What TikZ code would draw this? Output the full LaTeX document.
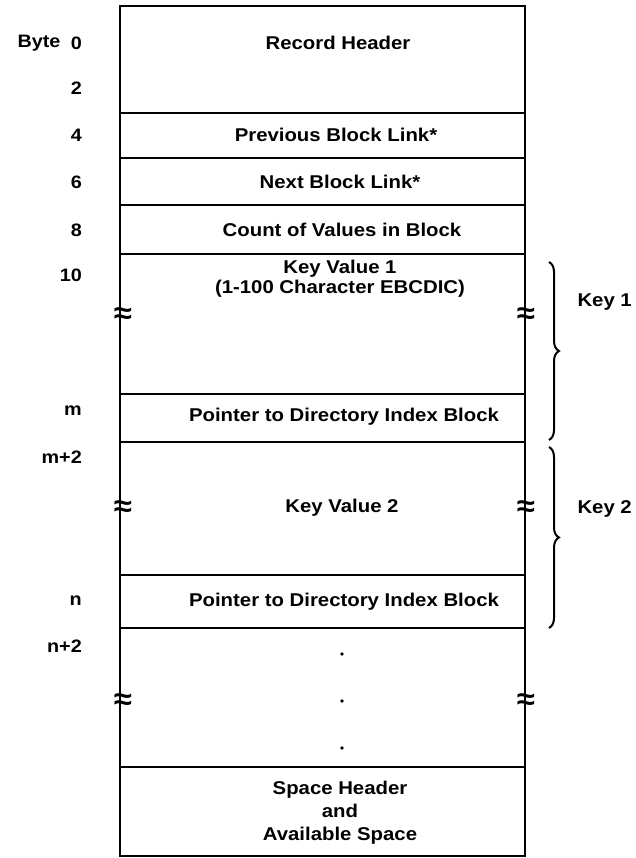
\documentclass[tikz,border=0pt]{standalone}
\usepackage{fontspec}
\setmainfont{Liberation Sans}[FakeStretch=1.1]
\usetikzlibrary{positioning,decorations.pathreplacing}
\tikzset{
  cell/.style={rectangle,draw,line width=1.6pt,minimum width=405pt,
    inner sep=0pt,outer sep=0pt,anchor=north},
  txt/.style={font=\fontsize{18.5}{23}\selectfont\bfseries,align=center,inner sep=0pt},
  byte/.style={font=\fontsize{18}{20}\selectfont\bfseries,anchor=east,inner sep=0pt},
  brk/.style={font=\fontsize{30}{30}\selectfont\bfseries,inner sep=0pt},
  keybrace/.style={decorate,decoration={brace,amplitude=10pt},line width=2pt},
}

\begin{document}
\begin{tikzpicture}[x=1pt,y=-1pt]
\useasboundingbox (0,0) rectangle (635,858);
% record cells
\node[cell,minimum height=107pt] (hdr) at (322.5,6) {};
\node[cell,minimum height=45pt,below=0pt of hdr] (prev) {};
\node[cell,minimum height=47pt,below=0pt of prev] (next) {};
\node[cell,minimum height=49pt,below=0pt of next] (count) {};
\node[cell,minimum height=140pt,below=0pt of count] (key1) {};
\node[cell,minimum height=48pt,below=0pt of key1] (ptr1) {};
\node[cell,minimum height=133pt,below=0pt of ptr1] (key2) {};
\node[cell,minimum height=53pt,below=0pt of key2] (ptr2) {};
\node[cell,minimum height=139pt,below=0pt of ptr2] (more) {};
\node[cell,minimum height=89pt,below=0pt of more] (space) {};

% cell texts
\node[txt] (thdr) at (338,43) {Record Header};
\node[txt] (tprev) at (336,135) {Previous Block Link*};
\node[txt] (tnext) at (340,182) {Next Block Link*};
\node[txt] (tcount) at (342,230) {Count of Values in Block};
\node[txt,font=\fontsize{18.5}{20}\selectfont\bfseries] (tkey1) at (340,279) {Key Value 1\\(1-100 Character EBCDIC)};
\node[txt] (tptr1) at (344,417) {Pointer to Directory Index Block};
\node[txt] (tkey2) at (342,508) {Key Value 2};
\node[txt] (tptr2) at (344,602) {Pointer to Directory Index Block};
\node[txt] (tspace) at (340,813) {Space Header\\and\\Available Space};
\foreach \y [count=\i] in {654,701,748}
  \fill (342,\y) circle (1.8pt) coordinate (dot\i);

% byte offsets
\node[byte,anchor=center] (bytelbl) at (39,43) {Byte};
\foreach \y/\b [count=\i] in {43/0,88/2,135/4,182/6,230/8,275/10,411/m,457/m+2,601/n,646/n+2}
  \node[byte] (b\i) at (82,\y) {\b};

% breaks
\foreach \y [count=\i] in {316,509,702} {
  \node[brk] (bl\i) at (123,\y) {≈};
  \node[brk] (br\i) at (526,\y) {≈};
}

% keys
\coordinate (k1top) at (549,262);
\coordinate (k1bot) at (549,440);
\coordinate (k2top) at (549,447);
\coordinate (k2bot) at (549,628);
\draw[keybrace] (k1top) -- (k1bot);
\draw[keybrace] (k2top) -- (k2bot);
\node[txt,anchor=east] (k1) at (632,302) {Key 1};
\node[txt,anchor=east] (k2) at (632,509) {Key 2};
\end{tikzpicture}
\end{document}
